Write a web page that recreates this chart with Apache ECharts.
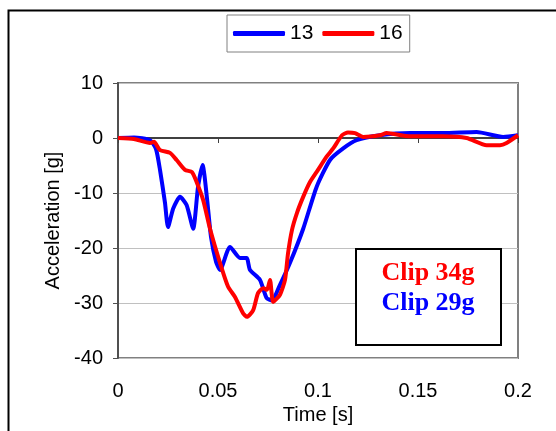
<!DOCTYPE html>
<html lang="en">
<head>
    <meta charset="UTF-8">
    <title>echarts</title>
    <script src="https://cdn.jsdelivr.net/npm/echarts@6/dist/echarts.min.js"></script>
    <style>
        html, body {margin: 0; padding: 0; background: #fff;}
    </style>
</head>
<body>
<div id="myChart" style="width: 556px;height:431px;"></div>
<script type="text/javascript">
    // x ticks / y ticks
    var xTicks = [0, 0.05, 0.1, 0.15, 0.2];
    var yTicks = [-40, -30, -20, -10, 0, 10];

    // run 13 (blue)
    var time13 = [0, 0.008, 0.016, 0.019, 0.021, 0.0235, 0.025, 0.0276, 0.031, 0.0343, 0.0376, 0.040, 0.0423, 0.0445, 0.0465,
        0.049, 0.051, 0.056, 0.061, 0.0643, 0.066, 0.071, 0.0743, 0.077, 0.081, 0.086, 0.0926, 0.0993, 0.106, 0.1126,
        0.1193, 0.131, 0.146, 0.1626, 0.1793, 0.1926, 0.2];
    var acc13 = [0, 0.1, -0.4, -2, -5.8, -11.8, -16.2, -12.8, -10.7, -12.2, -16.5, -8.9, -4.9, -11, -18,
        -22.5, -24, -19.8, -21.8, -21.8, -24, -25.8, -29.1, -29.5, -26.7, -22.7, -16.5, -8.9, -4, -1.9,
        -0.4, 0.5, 0.9, 0.9, 1.1, 0.2, 0.5];

    // run 16 (red)
    var time16 = [0, 0.008, 0.016, 0.018, 0.021, 0.026, 0.0293, 0.0335, 0.037, 0.0393, 0.0426, 0.046, 0.051, 0.055, 0.0585,
        0.0626, 0.0645, 0.0676, 0.070, 0.0726, 0.0745, 0.076, 0.0776, 0.081, 0.0835, 0.085, 0.087, 0.0895, 0.0926, 0.096,
        0.100, 0.1043, 0.1076, 0.112, 0.115, 0.1185, 0.1226, 0.131, 0.1343, 0.146, 0.1626, 0.1743, 0.1843, 0.191, 0.1943, 0.2];
    var acc16 = [0, -0.2, -0.9, -0.7, -2.2, -2.7, -4, -5.8, -6.2, -8, -11.3, -16.5, -22.7, -27, -28.9,
        -31.9, -32.5, -31.3, -28.2, -27.3, -27.6, -25.8, -29.8, -28.5, -25.8, -21, -16.7, -13.6, -10.7, -8,
        -5.8, -3.4, -1.9, 0.5, 1, 0.9, 0.2, 0.5, 0.9, 0.3, 0.3, 0, -1.3, -1.3, -0.9, 0.5];

    function pairs(t, v) {
        var out = [];
        for (var i = 0; i < t.length; i++) {
            out.push([t[i], v[i]]);
        }
        return out;
    }

    var font = 'Liberation Sans, Arial, sans-serif';
    var myChart = echarts.init(document.getElementById('myChart'));
    var option = {
        animation: false,
        backgroundColor: '#fff',
        grid: {
            left: 118, top: 83, width: 400, height: 275,
            show: true, borderColor: '#808080', borderWidth: 2, backgroundColor: '#fff'
        },
        legend: {
            data: ['13', '16'],
            left: 227, top: 15,
            itemWidth: 52, itemHeight: 5, itemGap: 9,
            icon: 'roundRect',
            padding: [8, 7, 8, 6],
            borderColor: '#808080', borderWidth: 1,
            textStyle: {fontFamily: font, fontSize: 21, color: '#000'}
        },
        xAxis: [{
            type: 'value',
            min: xTicks[0], max: xTicks[xTicks.length - 1], interval: 0.05,
            position: 'bottom',
            axisLine: {show: false, onZero: false},
            axisTick: {show: false},
            splitLine: {show: false},
            axisLabel: {
                margin: 23, fontFamily: font, fontSize: 20, color: '#000',
                formatter: function (v) { return String(+v.toFixed(2)); }
            },
            name: 'Time [s]', nameLocation: 'middle', nameGap: 43,
            nameTextStyle: {fontFamily: font, fontSize: 20, color: '#000'}
        }, {
            type: 'value',
            min: xTicks[0], max: xTicks[xTicks.length - 1], interval: 0.05,
            position: 'bottom',
            axisLine: {show: true, onZero: true, lineStyle: {color: '#404040', width: 2}},
            axisTick: {show: true, length: 5, lineStyle: {color: '#404040', width: 1}},
            axisLabel: {show: false},
            splitLine: {show: false}
        }],
        yAxis: {
            type: 'value',
            min: yTicks[0], max: yTicks[yTicks.length - 1], interval: 10,
            axisLine: {show: true, lineStyle: {color: '#505050', width: 2}},
            axisTick: {show: true, length: 5, lineStyle: {color: '#505050', width: 1}},
            splitLine: {show: true, lineStyle: {color: '#c0c0c0', width: 1}},
            axisLabel: {margin: 15, fontFamily: font, fontSize: 20, color: '#000'},
            name: 'Acceleration [g]', nameLocation: 'middle', nameGap: 55,
            nameTextStyle: {fontFamily: font, fontSize: 20, color: '#000'}
        },
        series: [{
            name: '13', type: 'line', xAxisIndex: 0,
            data: pairs(time13, acc13),
            showSymbol: false, smooth: 0.2,
            lineStyle: {color: '#0000ff', width: 4},
            itemStyle: {color: '#0000ff'}
        }, {
            name: '16', type: 'line', xAxisIndex: 0,
            data: pairs(time16, acc16),
            showSymbol: false, smooth: 0.2,
            lineStyle: {color: '#ff0000', width: 4},
            itemStyle: {color: '#ff0000'}
        }],
        graphic: [{
            type: 'rect', left: 6, top: 8, silent: true,
            shape: {width: 580, height: 450},
            style: {fill: null, stroke: '#000', lineWidth: 2}
        }, {
            type: 'rect', left: 355, top: 248, z: 100,
            shape: {width: 145, height: 96},
            style: {fill: '#fff', stroke: '#000', lineWidth: 2}
        }, {
            type: 'text', x: 428, y: 273, z: 101,
            style: {
                text: 'Clip 34g', fill: '#ff0000', align: 'center', verticalAlign: 'middle',
                font: 'bold 26px "Liberation Serif", "Times New Roman", serif'
            }
        }, {
            type: 'text', x: 428, y: 303, z: 101,
            style: {
                text: 'Clip 29g', fill: '#0000ff', align: 'center', verticalAlign: 'middle',
                font: 'bold 26px "Liberation Serif", "Times New Roman", serif'
            }
        }]
    };
    myChart.setOption(option);
</script>
</body>
</html>
